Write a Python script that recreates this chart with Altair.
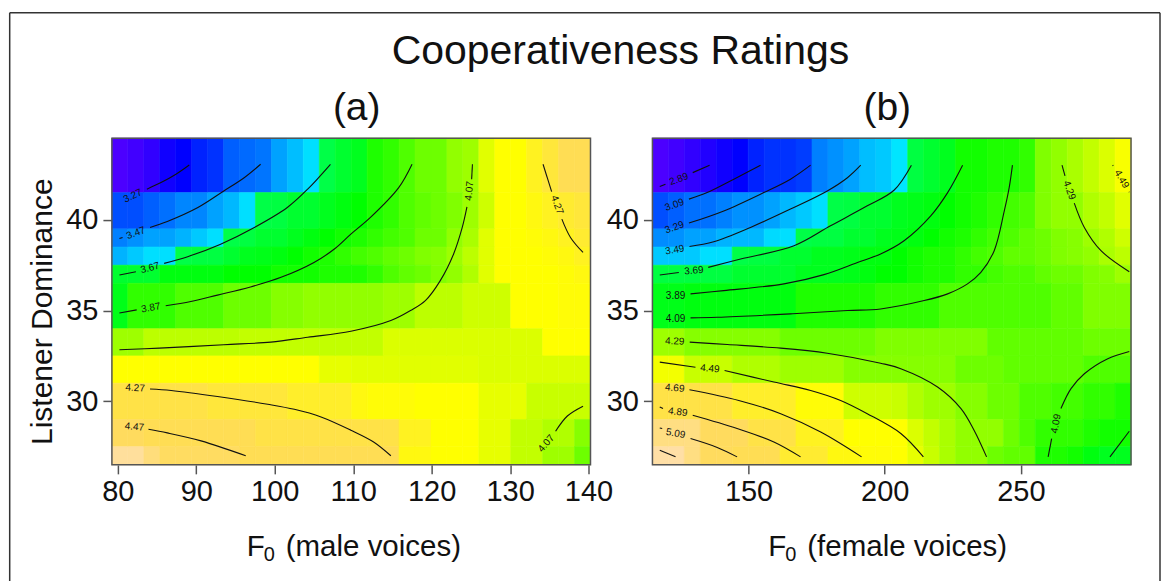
import altair as alt
import pandas as pd

FONT = "Liberation Sans"
title_text = "Cooperativeness Ratings"

# cell edges
male_f0_edges = [79.24,81.27,83.31,85.34,87.37,89.41,91.44,93.48,95.51,97.54,99.58,101.61,103.64,105.68,107.71,109.75,111.78,113.81,115.85,117.88,119.92,121.95,123.98,126.02,128.05,130.08,132.12,134.15,136.19,138.22,140.25]
female_f0_edges = [114.71,120.57,126.43,132.28,138.14,144.0,149.86,155.72,161.57,167.43,173.29,179.15,185.01,190.86,196.72,202.58,208.44,214.3,220.15,226.01,231.87,237.73,243.59,249.44,255.3,261.16,267.02,272.88,278.73,284.59,290.44]
dominance_edges = [44.5,41.5,39.5,38.5,37.5,36.5,34,32.5,31,29,27.5,26.5]

# colour level of each cell, top row first
male_levels = [
 [3.10,3.12,3.15,3.21,3.24,3.30,3.33,3.41,3.43,3.45,3.53,3.58,3.64,3.66,3.70,3.73,3.83,3.86,3.91,3.96,3.96,4.02,4.04,4.15,4.20,4.20,4.30,4.38,4.46,4.46],
 [3.38,3.38,3.41,3.44,3.48,3.48,3.53,3.57,3.64,3.66,3.67,3.70,3.70,3.73,3.755,3.78,3.83,3.86,3.91,3.94,3.96,3.99,4.04,4.12,4.20,4.20,4.25,4.30,4.35,4.38],
 [3.47,3.50,3.53,3.53,3.56,3.60,3.64,3.66,3.67,3.70,3.70,3.73,3.755,3.78,3.81,3.83,3.86,3.89,3.91,3.96,3.96,4.02,4.06,4.15,4.20,4.20,4.22,4.25,4.30,4.35],
 [3.56,3.60,3.64,3.64,3.66,3.67,3.67,3.70,3.73,3.74,3.755,3.78,3.81,3.83,3.86,3.89,3.91,3.94,3.96,3.99,4.00,4.04,4.09,4.15,4.20,4.20,4.20,4.22,4.25,4.30],
 [3.70,3.70,3.70,3.755,3.755,3.755,3.755,3.78,3.78,3.78,3.81,3.81,3.81,3.83,3.83,3.83,3.86,3.91,3.94,3.96,3.99,4.02,4.07,4.15,4.20,4.20,4.20,4.20,4.22,4.25],
 [3.74,3.86,3.86,3.86,3.91,3.91,3.91,3.96,3.96,3.96,4.00,4.00,4.02,4.02,4.02,4.02,4.02,4.04,4.04,4.09,4.09,4.09,4.12,4.12,4.12,4.20,4.20,4.20,4.22,4.22],
 [4.04,4.04,4.09,4.09,4.09,4.09,4.09,4.09,4.10,4.10,4.10,4.10,4.10,4.10,4.10,4.10,4.10,4.14,4.14,4.14,4.14,4.14,4.14,4.14,4.14,4.14,4.14,4.20,4.20,4.20],
 [4.20,4.20,4.20,4.20,4.20,4.20,4.20,4.20,4.20,4.20,4.20,4.20,4.20,4.16,4.16,4.15,4.15,4.15,4.15,4.15,4.15,4.15,4.15,4.14,4.14,4.14,4.14,4.14,4.14,4.14],
 [4.42,4.42,4.42,4.42,4.42,4.42,4.38,4.38,4.38,4.38,4.38,4.33,4.33,4.33,4.33,4.25,4.22,4.22,4.22,4.20,4.20,4.20,4.20,4.16,4.16,4.16,4.11,4.11,4.11,4.11],
 [4.49,4.49,4.46,4.46,4.46,4.46,4.46,4.46,4.46,4.42,4.42,4.42,4.42,4.42,4.42,4.42,4.42,4.42,4.30,4.30,4.20,4.20,4.20,4.16,4.16,4.10,4.10,4.07,4.07,4.00],
 [4.68,4.68,4.58,4.50,4.50,4.50,4.50,4.50,4.46,4.46,4.46,4.46,4.46,4.46,4.46,4.46,4.46,4.46,4.25,4.25,4.20,4.20,4.20,4.16,4.16,4.10,4.10,4.04,4.04,3.96],
]
female_levels = [
 [3.10,3.12,3.15,3.18,3.21,3.24,3.30,3.33,3.33,3.35,3.47,3.50,3.53,3.58,3.60,3.65,3.67,3.70,3.73,3.81,3.81,3.83,3.83,3.86,3.99,4.02,4.06,4.10,4.14,4.19],
 [3.38,3.41,3.44,3.44,3.47,3.50,3.50,3.53,3.57,3.60,3.64,3.66,3.67,3.70,3.70,3.73,3.74,3.755,3.78,3.81,3.83,3.86,3.89,3.91,3.99,4.02,4.02,4.07,4.10,4.15],
 [3.49,3.50,3.53,3.53,3.56,3.57,3.57,3.63,3.64,3.66,3.67,3.67,3.70,3.70,3.73,3.74,3.755,3.78,3.81,3.83,3.86,3.89,3.91,3.94,3.96,3.99,4.00,4.04,4.07,4.12],
 [3.60,3.60,3.60,3.64,3.64,3.66,3.67,3.67,3.70,3.70,3.73,3.73,3.74,3.755,3.755,3.78,3.81,3.83,3.83,3.86,3.89,3.91,3.94,3.94,3.96,3.99,4.00,4.02,4.06,4.09],
 [3.67,3.67,3.67,3.67,3.67,3.70,3.70,3.70,3.70,3.73,3.73,3.73,3.74,3.755,3.78,3.78,3.81,3.83,3.83,3.86,3.86,3.89,3.91,3.91,3.94,3.96,3.96,3.99,4.00,4.04],
 [3.74,3.74,3.755,3.755,3.755,3.755,3.755,3.755,3.755,3.83,3.83,3.83,3.83,3.83,3.86,3.86,3.86,3.86,3.91,3.91,3.91,3.91,3.91,3.91,3.91,3.94,3.94,3.99,3.99,3.99],
 [4.04,4.04,4.00,4.00,4.00,4.00,4.00,4.00,3.96,3.96,3.96,3.96,3.96,3.96,3.99,3.99,3.99,3.99,3.99,3.99,3.99,3.94,3.94,3.94,3.94,3.94,3.94,3.96,3.96,3.96],
 [4.18,4.18,4.11,4.11,4.11,4.07,4.07,4.07,4.04,4.04,4.04,4.04,4.00,4.00,4.00,4.00,4.00,4.00,4.00,3.96,3.96,3.96,3.94,3.94,3.94,3.94,3.94,3.91,3.91,3.91],
 [4.42,4.42,4.42,4.42,4.42,4.33,4.33,4.33,4.33,4.22,4.22,4.22,4.12,4.12,4.12,4.11,4.07,4.04,4.04,4.00,4.00,3.96,3.96,3.91,3.91,3.89,3.89,3.86,3.86,3.83],
 [4.60,4.60,4.60,4.49,4.49,4.49,4.42,4.42,4.42,4.30,4.30,4.30,4.20,4.20,4.20,4.20,4.14,4.10,4.06,4.02,4.02,4.02,3.96,3.91,3.86,3.86,3.86,3.83,3.81,3.81],
 [4.71,4.71,4.60,4.49,4.49,4.46,4.46,4.46,4.35,4.35,4.35,4.25,4.25,4.22,4.22,4.20,4.16,4.11,4.06,4.02,4.02,3.96,3.94,3.94,3.83,3.83,3.81,3.755,3.73,3.73],
]

level_stops = [3.10,3.24,3.65,3.6501,3.78,4.20,4.3375,4.475,4.6125,4.75]
level_colors = ["#4C00FF","#0000FF","#00E5FF","#00FF4D","#00FF00","#FFFF00","#FFED2D","#FFDB59","#FFDE86","#FFE0B3"]

# contour segments: (F0 values, dominance values)
male_segments = [
 ([83.7,85.5,87.4,89.1],[41.69,42.05,42.51,43.02]),
 ([80.2,80.6],[38.97,39.03]),
 ([84.1,86.3,90.2,93.5,96.1,98.2],[39.58,39.91,40.68,41.59,42.32,43.06]),
 ([80.2,82.3],[36.96,37.14]),
 ([85.9,88.9,93.1,97.4,101.6,104.2,107.1],[37.6,37.97,38.66,39.58,40.68,41.69,43.06]),
 ([80.2,82.4],[34.87,35.04]),
 ([86.1,89.3,92.7,96.9,100.8,105,107.6,109.7,112.2,115.8,117.5],[35.27,35.5,35.85,36.3,36.83,37.65,38.39,39.21,40.13,41.77,43.06]),
 ([80.2,85.3,93.5,99.5,104.2,109.7,114.8,117.3,119.2,121.1,122.8,123.9,124.5],[32.84,32.93,33.12,33.26,33.53,33.86,34.45,35,35.55,36.65,38.12,39.58,40.71]),
 ([125.1,125.2],[42.24,43.06]),
 ([134.2,135.3],[43.06,41.55]),
 ([136.6,137.7,139.3],[40.04,39.03,38.2]),
 ([84.1,86.8,92.7,99.1,102.5,105.9,109.7,112.6,114.8],[30.68,30.6,30.27,29.84,29.56,29.14,28.41,27.76,27.0]),
 ([83.9,86.3,90.6,96.3],[28.46,28.26,27.82,27.0]),
 ([139.3,137.3,135.8],[29.73,29.19,28.35]),
]
male_labels = ["3.27","3.47","3.67","3.87","4.07","4.27","4.27","4.47","4.07"]
male_label_f0 = [81.9,82.3,84.1,84.2,124.8,136.0,82.2,82.1,134.6]
male_label_dom = [41.32,39.27,37.35,35.15,41.59,40.82,30.73,28.59,27.68]
male_label_angle = [335,340,345,350,275,70,3,5,310]

female_segments = [
 ([117.4,119.5],[41.83,41.96]),
 ([129.5,135.7],[42.6,43.01]),
 ([128.1,134.8,144.6,154.4],[41.14,41.5,42.24,43.01]),
 ([128.1,140.9,155.6,165.4,172.8],[39.82,40.49,41.5,42.24,43.01]),
 ([128.3,137.2,150.7,165.4,178.9,186.3,191.2],[38.53,38.79,39.58,40.59,41.59,42.32,43.01]),
 ([117.4,124.4],[36.96,37.1]),
 ([135.2,147.1,166.7,180.1,193.6,203.4,209.8],[37.38,37.84,38.57,39.67,40.77,41.63,43.01]),
 ([128.7,140.9,163,177.7,190,198.5,207.1,216.9,223.1,228.6],[35.92,36.1,36.47,36.98,37.65,38.12,38.85,40.22,41.5,43.01]),
 ([128.7,138.5,165.4,186.3,198.5,214.5,223.1,230.4,235.3,240.2,243.9,245.7,246.9],[34.6,34.63,34.82,35,35.09,35.55,35.92,36.47,37.1,38.3,40.49,41.77,43.01]),
 ([265.1,266.2],[43.01,42.42]),
 ([269.6,273.3,279.4,289.8],[40.92,39.58,38.3,37.14]),
 ([283.7,283.9],[43.01,42.97]),
 ([289.7,289.8],[41.55,41.52]),
 ([128.4,142.2,161.8,178.9,198.5,205.9,219.4,228,232.8,237.4],[33.26,33.13,32.93,32.65,32.1,31.8,30.79,29.6,28.41,26.94]),
 ([117.4,130.5],[32.16,31.88]),
 ([141.2,159.3,172.8,183.8,193.6,205.9,214.2],[31.7,31.06,30.6,30.05,29.32,28.23,26.94]),
 ([128.3,146.4,161.8,176.5,191.5],[30.64,30.05,29.32,28.31,26.94]),
 ([117.4,118.6],[29.69,29.6]),
 ([129.5,145.8,159.3,169.1],[29.23,28.5,27.76,26.94]),
 ([117.4,118.3],[28.53,28.5]),
 ([128.7,138.5,145.8],[27.95,27.46,26.94]),
 ([117.4,123.2],[27.31,26.94]),
 ([289.8,281.9,273.3,268.4,264.7],[32.75,32.35,31.52,30.7,29.6]),
 ([261.3,260],[27.95,26.94]),
 ([289.8,282.7],[28.35,26.94]),
]
female_labels = ["2.89","3.09","3.29","3.49","3.69","3.89","4.09","4.29","4.49","4.29","4.49","4.69","4.89","5.09","4.09"]
female_label_f0 = [124.4,122.8,122.8,122.9,129.9,123.2,123.2,267.8,287.0,122.9,135.8,122.9,124.0,123.2,262.9]
female_label_dom = [42.24,40.82,39.58,38.34,37.2,35.82,34.54,41.63,42.24,33.3,31.8,30.73,29.41,28.23,28.77]
female_label_angle = [340,340,340,350,355,0,0,70,60,2,5,5,8,10,280]


def cell_frame(f0_edges, levels):
    rows = []
    for r, row in enumerate(levels):
        for c, v in enumerate(row):
            rows.append({"x0": f0_edges[c], "x1": f0_edges[c + 1],
                         "y0": dominance_edges[r + 1], "y1": dominance_edges[r], "level": v})
    return pd.DataFrame(rows)


def seg_frame(segments):
    rows = []
    for s, (xs, ys) in enumerate(segments):
        for i, (x, y) in enumerate(zip(xs, ys)):
            rows.append({"seg": s, "i": i, "f0": x, "dom": y})
    return pd.DataFrame(rows)


def caption(text, size, px, py, align="center", baseline="middle", angle=0):
    return alt.Chart(pd.DataFrame({"t": [text]})).mark_text(
        font=FONT, fontSize=size, color="#111111", align=align, baseline=baseline, angle=angle).encode(
        x=alt.value(px), y=alt.value(py), text="t:N")


def panel(f0_edges, levels, segments, labels, lab_x, lab_y, lab_a, ticks, extras=()):
    W, H = 479, 327
    dom_x = [f0_edges[0], f0_edges[-1]]
    color_scale = alt.Scale(domain=level_stops, range=level_colors, interpolate="rgb")
    x_axis = alt.Axis(values=ticks, title=None, grid=False, domain=False, tickSize=9, tickWidth=1.5,
                      tickColor="#555555", labelFontSize=29, labelPadding=4, labelColor="#111111",
                      labelFont=FONT, labelOverlap=False, labelFlush=False)
    y_axis = alt.Axis(values=[30, 35, 40], title=None, grid=False, domain=False, tickSize=9, tickWidth=1.5,
                      tickColor="#555555", labelFontSize=29, labelPadding=5, labelColor="#111111",
                      labelAngle=0, labelFont=FONT)
    cells = alt.Chart(cell_frame(f0_edges, levels)).mark_rect(strokeWidth=0.6).encode(
        x=alt.X("x0:Q", scale=alt.Scale(domain=dom_x, nice=False, zero=False), axis=x_axis),
        x2="x1:Q",
        y=alt.Y("y0:Q", scale=alt.Scale(domain=[26.5, 44.5], nice=False, zero=False), axis=y_axis),
        y2="y1:Q",
        color=alt.Color("level:Q", scale=color_scale, legend=None),
        stroke=alt.Stroke("level:Q", scale=color_scale, legend=None),
    )
    lines = alt.Chart(seg_frame(segments)).mark_line(color="#111111", strokeWidth=1.1, interpolate="catmull-rom").encode(
        x="f0:Q", y="dom:Q", detail="seg:N", order="i:Q")
    text = alt.Chart(pd.DataFrame({"t": labels, "f0": lab_x, "dom": lab_y, "a": lab_a})).mark_text(
        font=FONT, fontSize=10, color="#111111").encode(
        x="f0:Q", y="dom:Q", text="t:N", angle=alt.Angle("a:Q", scale=None))
    border = alt.Chart(pd.DataFrame({"a": [1]})).mark_rect(fill=None, stroke="#555555", strokeWidth=1.5).encode(
        x=alt.value(0), x2=alt.value(W), y=alt.value(0), y2=alt.value(H))
    return alt.layer(cells, lines, text, border, *extras).properties(width=W, height=H)


def rule(x1, y1, x2, y2):
    return alt.Chart(pd.DataFrame({"a": [1]})).mark_rule(color="#333333", strokeWidth=1.5).encode(
        x=alt.value(x1), x2=alt.value(x2), y=alt.value(y1), y2=alt.value(y2))


left_extras = [rule(-102.3, -125.5, -102.3, 444), rule(-102.3, -125.5, 1049, -125.5), rule(1049, -125.5, 1049, 444),
               caption(title_text, 41, 509, -86), caption("(a)", 39, 245, -30),
               caption("Listener Dominance", 30, -68.5, 173.7, angle=270),
               caption("F", 29.5, 135, 418, "left", "alphabetic"),
               caption("0", 20, 152, 423.7, "left", "alphabetic"),
               caption("(male voices)", 29.5, 174, 418, "left", "alphabetic")]
right_extras = [caption("(b)", 39, 235, -30),
                caption("F", 29.5, 116, 418, "left", "alphabetic"),
                caption("0", 20, 133, 423.7, "left", "alphabetic"),
                caption("(female voices)", 29.5, 155, 418, "left", "alphabetic")]

left = panel(male_f0_edges, male_levels, male_segments, male_labels, male_label_f0, male_label_dom, male_label_angle,
             [80, 90, 100, 110, 120, 130, 140], left_extras)
right = panel(female_f0_edges, female_levels, female_segments, female_labels, female_label_f0, female_label_dom,
              female_label_angle, [150, 200, 250], right_extras)

chart = alt.hconcat(left, right, spacing=62, bounds="flush").resolve_scale(color="independent", stroke="independent").properties(
    padding={"left": 0, "top": 3, "right": 0, "bottom": 0},
).configure_view(stroke=None)

chart.save("out.html", embed_options={"renderer": "svg", "actions": False})
